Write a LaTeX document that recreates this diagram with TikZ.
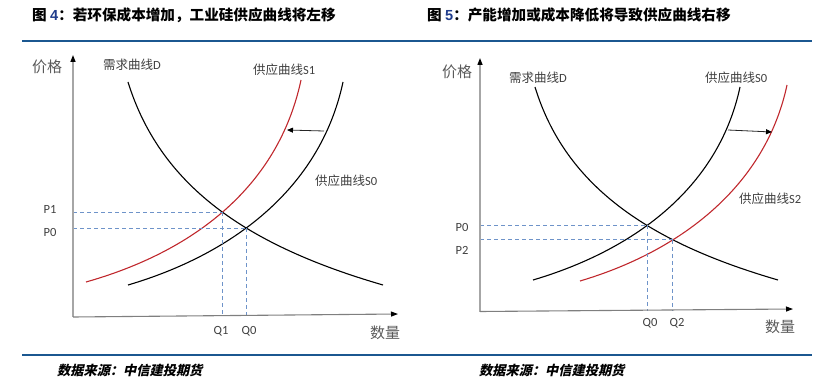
\documentclass[tikz,border=0pt]{standalone}
\usepackage{fontspec}
\setmainfont{Carlito}
\newfontfamily\cjk{Noto Sans CJK SC}
\newfontfamily\cjkslant[FakeSlant=0.22]{Noto Sans CJK SC}
\newfontfamily\numfont{Liberation Sans}
\usetikzlibrary{arrows.meta,intersections}
\definecolor{ruleblue}{HTML}{1B5790}
\definecolor{numblue}{HTML}{1F3C8C}
\definecolor{guideblue}{HTML}{6E93C9}
\definecolor{supred}{HTML}{C0282D}
\definecolor{labgray}{HTML}{404040}
\definecolor{axgray}{HTML}{595959}
\definecolor{vaxis}{HTML}{A6A6A6}
\definecolor{haxis}{HTML}{7F7F7F}
\tikzset{
  titletext/.style={anchor=west, inner sep=0pt, font=\cjk\bfseries\fontsize{14.6}{16}\selectfont, text=black},
  foottext/.style={anchor=west, inner sep=0pt, font=\cjkslant\bfseries\fontsize{13.2}{15}\selectfont, text=black},
  rulebar/.style={draw=ruleblue, line width=2.2pt},
  axtitle/.style={inner sep=0pt, font=\cjk\fontsize{15}{17}\selectfont, text=axgray},
  curvelab/.style={inner sep=0pt, font=\fontsize{12.5}{14}\selectfont, text=labgray},
  ticklab/.style={inner sep=0pt, font=\fontsize{12.5}{14}\selectfont, text=labgray},
  vax/.style={draw=vaxis, line width=1.3pt, -{Triangle[length=7pt,width=5pt,color=black]}},
  hax/.style={draw=haxis, line width=1.1pt, -{Triangle[length=7pt,width=5pt,color=black]}},
  blackcurve/.style={draw=black, line width=1.1pt},
  redcurve/.style={draw=supred, line width=1.1pt},
  guide/.style={draw=guideblue, line width=0.9pt, dash pattern=on 4pt off 3pt},
  shiftarrow/.style={draw=black!85, line width=0.8pt, -{Triangle[length=6pt,width=5pt,color=black]}},
}
\newcommand{\cj}[1]{{\cjk #1}}
\begin{document}
\begin{tikzpicture}[x=1pt,y=-1pt]
\useasboundingbox (0,0) rectangle (835,382);
% titles
\node[titletext] (t4) at (32,15) {图 {\numfont\bfseries\color{numblue}4}：若环保成本增加，工业硅供应曲线将左移};
\node[titletext] (t5) at (427,15) {图 {\numfont\bfseries\color{numblue}5}：产能增加或成本降低将导致供应曲线右移};
% rules
\coordinate (rt1) at (22,41); \coordinate (rt2) at (812,41);
\coordinate (rb1) at (22,355); \coordinate (rb2) at (812,355);
\draw[rulebar] (rt1) -- (rt2);
\draw[rulebar] (rb1) -- (rb2);
% footers
\node[foottext] (f1) at (57,370) {数据来源：中信建投期货};
\node[foottext] (f2) at (479,370) {数据来源：中信建投期货};

% ================= left chart
\coordinate (LO) at (73,317);
\coordinate (LY) at (73,55);
\coordinate (LX) at (398,314);
\coordinate (LQbase) at (73,316);
\draw[blackcurve, name path=DL] (128,82) .. controls (160,185) and (245,245) .. (383,285);
\draw[blackcurve, name path=S0L] (128,285) .. controls (230,255) and (320,190) .. (343,82);
\draw[redcurve, name path=S1L] (86,282) .. controls (192,252) and (278,188) .. (301,80);
\path[name intersections={of=DL and S0L, by=E0}];
\path[name intersections={of=DL and S1L, by=E1}];
\draw[guide] (LO |- E1) -- (E1);
\draw[guide] (LO |- E0) -- (E0);
\draw[guide] (E1) -- (E1 |- LQbase);
\draw[guide] (E0) -- (E0 |- LQbase);
\coordinate (LA1) at (324,131);
\coordinate (LA2) at (287,130);
\draw[shiftarrow] (LA1) -- (LA2);
\draw[vax] (LO) -- (LY);
\draw[hax] (LO) -- (LX);
\node[axtitle] (ly) at (47,67) {价格};
\node[axtitle] (lx) at (385,333) {数量};
\node[curvelab, anchor=west] (ld) at (103,65) {\cj{需求曲线}D};
\node[curvelab, anchor=west] (ls1) at (253,70) {\cj{供应曲线}S1};
\node[curvelab, anchor=west] (ls0) at (315,181) {\cj{供应曲线}S0};
\node[ticklab] (lp1) at (50,209) {P1};
\node[ticklab] (lp0) at (50,232) {P0};
\node[ticklab] (lq1) at (221,331) {Q1};
\node[ticklab] (lq0) at (249,331) {Q0};

% ================= right chart
\coordinate (RO) at (480,311.5);
\coordinate (RY) at (480,58);
\coordinate (RX) at (793,309);
\coordinate (RQbase) at (480,310.5);
\draw[blackcurve, name path=DR] (535,87) .. controls (565,185) and (647,242) .. (778,280);
\draw[blackcurve, name path=S0R] (533,280) .. controls (631,251) and (718,190) .. (740,87);
\draw[redcurve, name path=S2R] (580,281) .. controls (678,252) and (765,188) .. (787,85);
\path[name intersections={of=DR and S0R, by=F0}];
\path[name intersections={of=DR and S2R, by=F2}];
\draw[guide] (RO |- F0) -- (F0);
\draw[guide] (RO |- F2) -- (F2);
\draw[guide] (F0) -- (F0 |- RQbase);
\draw[guide] (F2) -- (F2 |- RQbase);
\coordinate (RA1) at (728,130);
\coordinate (RA2) at (772,132);
\draw[shiftarrow] (RA1) -- (RA2);
\draw[vax] (RO) -- (RY);
\draw[hax] (RO) -- (RX);
\node[axtitle] (ry) at (457,72) {价格};
\node[axtitle] (rx) at (780,327) {数量};
\node[curvelab, anchor=west] (rd) at (509,78) {\cj{需求曲线}D};
\node[curvelab, anchor=west] (rs0) at (705,78) {\cj{供应曲线}S0};
\node[curvelab, anchor=west] (rs2) at (739,199) {\cj{供应曲线}S2};
\node[ticklab] (rp0) at (462,227) {P0};
\node[ticklab] (rp2) at (462,250) {P2};
\node[ticklab] (rq0) at (650,323) {Q0};
\node[ticklab] (rq2) at (677,323) {Q2};
\end{tikzpicture}
\end{document}
